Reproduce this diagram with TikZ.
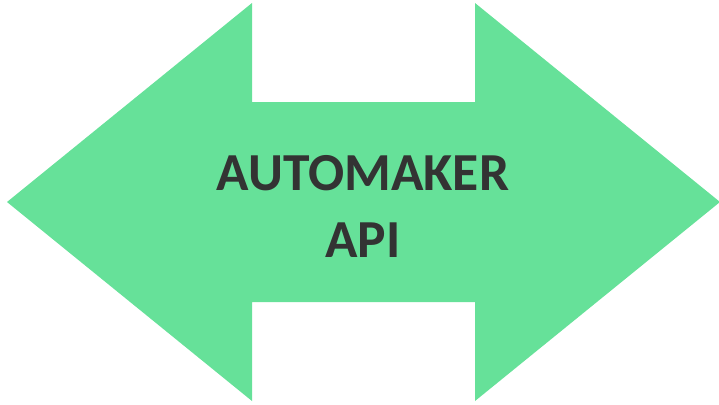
\documentclass[tikz,border=0pt]{standalone}
\usepackage{fontspec}
\setmainfont{Carlito}
\definecolor{arrowgreen}{HTML}{66E199}
\definecolor{textgray}{HTML}{333333}
\begin{document}
\begin{tikzpicture}[x=1pt,y=-1pt,
  label/.style={text=textgray,font=\bfseries\fontsize{53.5}{68}\selectfont,anchor=base,inner sep=0pt}]
\useasboundingbox (0,0) rectangle (719,404);
\fill[arrowgreen] (7,202) -- (252,3) -- (252,102) -- (475,102) -- (475,3) -- (720,202)
  -- (475,401) -- (475,302) -- (252,302) -- (252,401) -- cycle;
\node[label] (l1) at (363,190) {AUTOMAKER};
\node[label] (l2) at (363,257) {API};
\end{tikzpicture}
\end{document}
